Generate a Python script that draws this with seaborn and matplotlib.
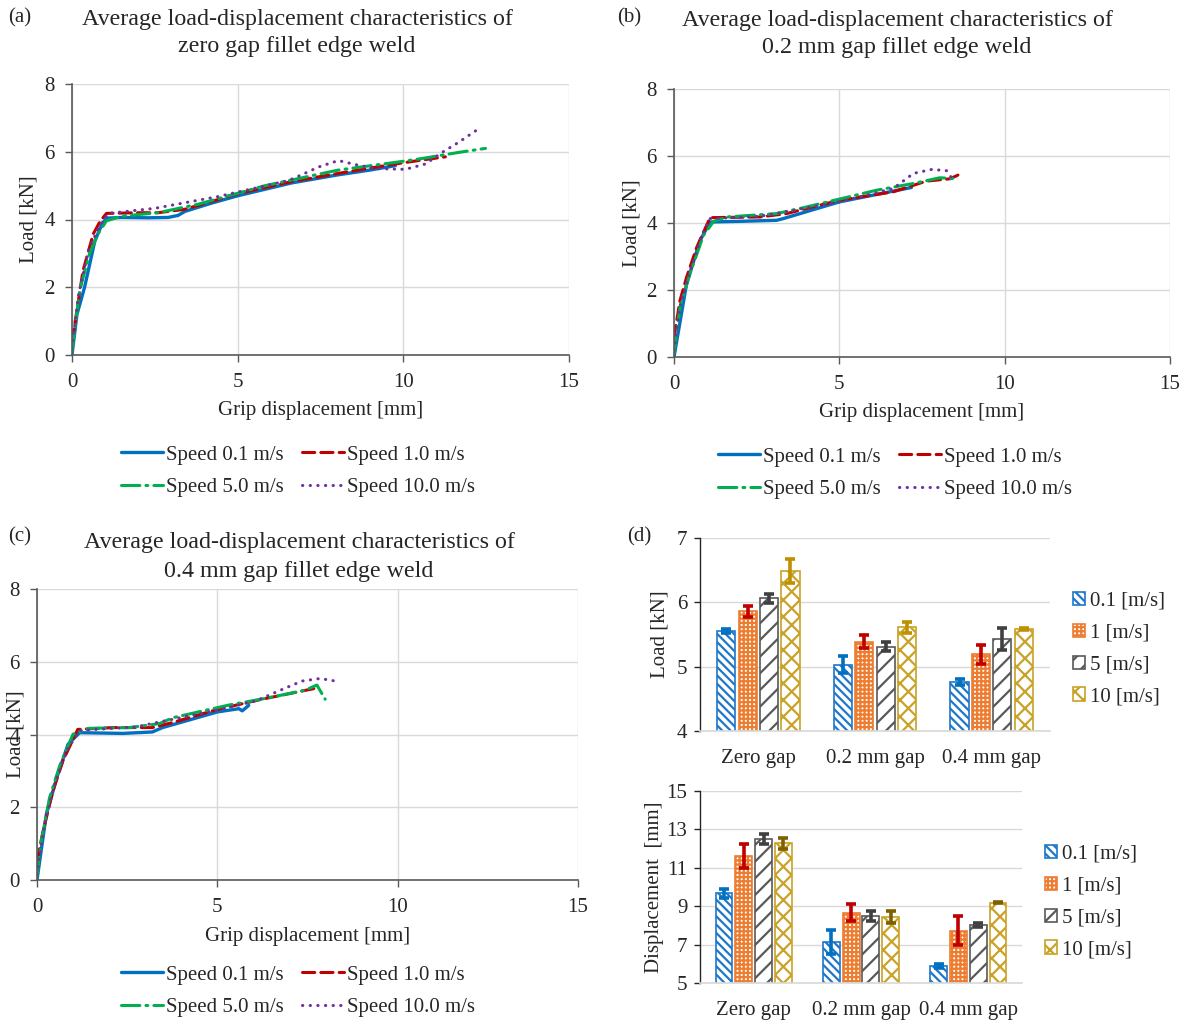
import numpy as np
import pandas as pd
import matplotlib
matplotlib.use("Agg")
import matplotlib.pyplot as plt
import seaborn as sns
from matplotlib.patches import Patch

sns.set_theme(style="white")
plt.rcParams['font.family'] = ['Liberation Serif', 'DejaVu Serif']
plt.rcParams['hatch.linewidth'] = 1.6

# ---------------- data: load-displacement curves ----------------
speeds = ["Speed 0.1 m/s", "Speed 1.0 m/s", "Speed 5.0 m/s", "Speed 10.0 m/s"]

# panel (a) zero gap
a_x01 = [0, 0.15, 0.38, 0.69, 0.9, 1.04, 1.5, 2.3, 2.9, 3.2, 3.41, 4.2, 5.0, 6.63, 8.04, 9.0, 9.76]
a_y01 = [0, 1.2, 2.0, 3.37, 3.85, 4.04, 4.06, 4.05, 4.06, 4.12, 4.24, 4.48, 4.7, 5.08, 5.32, 5.46, 5.59]
a_x10 = [0, 0.13, 0.33, 0.64, 0.85, 1.04, 2.0, 2.6, 3.4, 5.0, 6.63, 8.15, 9.76, 10.67, 11.27]
a_y10 = [0.41, 1.2, 2.48, 3.57, 3.95, 4.18, 4.2, 4.2, 4.3, 4.76, 5.12, 5.38, 5.64, 5.77, 5.85]
a_x50 = [0, 0.23, 0.53, 0.8, 1.04, 1.5, 2.6, 3.8, 5.83, 8.04, 9.86, 10.56, 11.67, 12.48]
a_y50 = [0.12, 1.9, 3.0, 3.6, 3.96, 4.1, 4.2, 4.45, 5.0, 5.46, 5.7, 5.8, 5.98, 6.1]
a_x100 = [0, 0.2, 0.5, 0.8, 1.09, 2.5, 4.42, 6.53, 7.0, 7.44, 8.04, 8.65, 9.25, 10.06, 10.67, 11.17, 11.67, 12.23]
a_y100 = [0.2, 1.8, 3.1, 3.75, 4.18, 4.33, 4.68, 5.15, 5.35, 5.55, 5.74, 5.6, 5.5, 5.48, 5.64, 5.98, 6.28, 6.65]

# panel (b) 0.2 mm gap
b_x01 = [0, 0.38, 0.79, 1.09, 2.0, 3.1, 3.3, 5.0, 7.18]
b_y01 = [0, 2.18, 3.48, 4.03, 4.05, 4.08, 4.13, 4.63, 5.06]
b_x10 = [0, 0.18, 0.38, 0.69, 1.09, 2.6, 3.4, 5.0, 6.63, 7.63, 8.35, 8.65]
b_y10 = [0.58, 1.68, 2.38, 3.28, 4.16, 4.18, 4.28, 4.68, 4.93, 5.25, 5.32, 5.46]
b_x50 = [0, 0.18, 0.48, 0.89, 1.2, 1.6, 3.1, 3.8, 6.13, 7.24, 8.04, 8.45]
b_y50 = [0.13, 1.48, 2.48, 3.63, 4.05, 4.18, 4.28, 4.43, 4.98, 5.18, 5.35, 5.33]
b_x100 = [0, 0.2, 0.5, 0.85, 1.09, 2.6, 5.0, 6.63, 7.24, 7.8, 8.25, 8.47]
b_y100 = [0.2, 1.6, 2.6, 3.65, 4.13, 4.2, 4.63, 5.03, 5.48, 5.6, 5.56, 5.23]

# panel (c) 0.4 mm gap
c_x01 = [0, 0.26, 0.58, 0.86, 1.18, 2.38, 3.2, 3.48, 5.0, 5.6, 5.69, 5.87]
c_y01 = [0, 1.81, 2.91, 3.73, 4.05, 4.03, 4.07, 4.19, 4.62, 4.71, 4.65, 4.8]
c_x10 = [0, 0.17, 0.44, 0.72, 1.13, 2.1, 3.2, 3.76, 5.0, 6.24, 7.72]
c_y10 = [0.53, 1.35, 2.45, 3.28, 4.14, 4.19, 4.19, 4.33, 4.69, 4.97, 5.27]
c_x50 = [0, 0.12, 0.35, 0.63, 1.0, 1.45, 2.56, 3.4, 3.76, 5.32, 6.43, 7.44, 7.76, 7.99]
c_y50 = [0.12, 1.08, 2.27, 3.14, 4.01, 4.17, 4.19, 4.3, 4.46, 4.81, 5.01, 5.22, 5.36, 4.97]
c_x100 = [0, 0.2, 0.5, 0.85, 1.18, 2.74, 5.0, 6.06, 6.8, 7.35, 7.85, 8.27]
c_y100 = [0.15, 1.5, 2.7, 3.6, 4.11, 4.21, 4.67, 4.92, 5.24, 5.47, 5.54, 5.47]

# ---------------- data: bar charts ----------------
gaps = ["Zero gap", "0.2 mm gap", "0.4 mm gap"]
bar_speeds = ["0.1 [m/s]", "1 [m/s]", "5 [m/s]", "10 [m/s]"]
load_01 = [5.55, 5.03, 4.76]
load_1 = [5.86, 5.39, 5.19]
load_5 = [6.06, 5.31, 5.43]
load_10 = [6.49, 5.61, 5.58]
load_err_01 = [0.03, 0.13, 0.05]
load_err_1 = [0.085, 0.10, 0.15]
load_err_5 = [0.065, 0.07, 0.17]
load_err_10 = [0.19, 0.085, 0.015]
disp_01 = [9.67, 7.14, 5.90]
disp_1 = [11.63, 8.66, 7.73]
disp_5 = [12.50, 8.49, 8.04]
disp_10 = [12.27, 8.44, 9.18]
disp_err_01 = [0.23, 0.63, 0.11]
disp_err_1 = [0.63, 0.43, 0.74]
disp_err_5 = [0.28, 0.24, 0.10]
disp_err_10 = [0.27, 0.30, 0.035]

# ---------------- styles ----------------
line_colors = ["#0070C0", "#C00000", "#00B050", "#7030A0"]
line_styles = ["-", (0, (4, 2)), (0, (6, 2, 0.6, 2)), (0, (0.1, 2.4))]
line_widths = [2.4, 2.2, 2.2, 2.2]

bar_edge = ["#1F77C9", "#ED7D31", "#595959", "#C9A227"]
bar_face = ["white", "white", "white", "white"]
bar_hatch = ["\\\\\\\\", "++++", "//", "xx"]
err_colors = ["#0070C0", "#C00000", "#404040", "#BF9000"]

FS = 15
W, H = 1190, 1025

fig = plt.figure(figsize=(11.9, 10.25), dpi=100)


def px_axes(left, top, right, bottom):
    return fig.add_axes([left / W, 1 - bottom / H, (right - left) / W, (bottom - top) / H])


def line_panel(ax, series):
    for (xs, ys), lab, c, ls, lw in zip(series, speeds, line_colors, line_styles, line_widths):
        df = pd.DataFrame({"x": xs, "y": ys})
        sns.lineplot(data=df, x="x", y="y", ax=ax, color=c, linestyle=ls, linewidth=lw,
                     sort=False, estimator=None, label=lab, legend=False,
                     dash_capstyle="round")
    ax.set_xlim(0, 15)
    ax.set_ylim(0, 8)
    ax.set_xticks([0, 5, 10, 15])
    ax.set_yticks([0, 2, 4, 6, 8])
    ax.grid(True, color="#D9D9D9", linewidth=1.0)
    for s in ["top", "right"]:
        ax.spines[s].set_visible(False)
    for s in ["left", "bottom"]:
        ax.spines[s].set_color("#595959")
        ax.spines[s].set_linewidth(1.2)
    ax.tick_params(axis="both", which="both", direction="out", length=5, width=1.0,
                   color="#595959", labelsize=FS, left=True, bottom=True)
    ax.tick_params(axis="x", pad=8)
    ax.tick_params(axis="y", pad=7.5)
    ax.set_xlabel("Grip displacement [mm]", fontsize=FS)
    ax.set_ylabel("Load [kN]", fontsize=FS)


def line_legend(ax, cx, cy):
    h, l = ax.get_legend_handles_labels()
    order = [0, 2, 1, 3]
    fig.legend([h[i] for i in order], [l[i] for i in order], ncol=2, loc="center",
               bbox_to_anchor=(cx / W, 1 - cy / H), frameon=False, fontsize=FS,
               handlelength=2.0, handletextpad=0.15, columnspacing=0.9, labelspacing=0.6)


# panel (a)
axa = px_axes(72, 84, 569, 355)
line_panel(axa, [(a_x01, a_y01), (a_x10, a_y10), (a_x50, a_y50), (a_x100, a_y100)])
axa.xaxis.set_label_coords(0.5, -0.171)
axa.yaxis.set_label_coords(-0.068, 0.5)
line_legend(axa, 298, 471)
fig.text(297 / W, 1 - 33 / H, "Average load-displacement characteristics of\nzero gap fillet edge weld",
         ha="center", va="center", fontsize=17.3, linespacing=1.4)
fig.text(8 / W, 1 - 18 / H, "(a)", ha="left", va="center", fontsize=FS)

# panel (b)
axb = px_axes(674, 89, 1170, 357)
line_panel(axb, [(b_x01, b_y01), (b_x10, b_y10), (b_x50, b_y50), (b_x100, b_y100)])
axb.xaxis.set_label_coords(0.5, -0.171)
axb.yaxis.set_label_coords(-0.065, 0.5)
line_legend(axb, 895, 473)
fig.text(897 / W, 1 - 34 / H, "Average load-displacement characteristics of\n0.2 mm gap fillet edge weld",
         ha="center", va="center", fontsize=17.3, linespacing=1.4)
fig.text(617 / W, 1 - 18 / H, "(b)", ha="left", va="center", fontsize=FS)

# panel (c)
axc = px_axes(37, 589, 578, 880)
line_panel(axc, [(c_x01, c_y01), (c_x10, c_y10), (c_x50, c_y50), (c_x100, c_y100)])
axc.xaxis.set_label_coords(0.5, -0.161)
axc.yaxis.set_label_coords(-0.022, 0.5)
line_legend(axc, 298, 991)
fig.text(299 / W, 1 - 557 / H, "Average load-displacement characteristics of\n0.4 mm gap fillet edge weld",
         ha="center", va="center", fontsize=17.3, linespacing=1.45)
fig.text(8 / W, 1 - 537 / H, "(c)", ha="left", va="center", fontsize=FS)

fig.text(627 / W, 1 - 537 / H, "(d)", ha="left", va="center", fontsize=FS)


def bar_panel(ax, vals, errs, ylim, yticks, ylabel, err_cols):
    rows = []
    for sp, v in zip(bar_speeds, vals):
        for g, val in zip(gaps, v):
            rows.append({"gap": g, "speed": sp, "value": val})
    df = pd.DataFrame(rows)
    sns.barplot(data=df, x="gap", y="value", hue="speed", order=gaps, hue_order=bar_speeds,
                errorbar=None, width=0.735, gap=0.15, ax=ax, legend=False,
                palette=bar_edge)
    handles = []
    bar_containers = list(ax.containers)
    for i, cont in enumerate(bar_containers):
        xs, ys = [], []
        for bar in cont.patches:
            bar.set_facecolor(bar_face[i])
            bar.set_edgecolor(bar_edge[i])
            bar.set_hatch(bar_hatch[i])
            bar.set_linewidth(1.2)
            xs.append(bar.get_x() + bar.get_width() / 2)
            ys.append(bar.get_height())
        ax.errorbar(xs, ys, yerr=errs[i], fmt="none", ecolor=err_cols[i], elinewidth=2.6,
                    capsize=3.5, capthick=2.6, zorder=5)
        handles.append(Patch(facecolor=bar_face[i], edgecolor=bar_edge[i], hatch=bar_hatch[i],
                             linewidth=1.2))
    ax.set_ylim(*ylim)
    ax.set_xlim(-0.5, 2.5)
    ax.set_yticks(yticks)
    ax.yaxis.grid(True, color="#D9D9D9", linewidth=1.0)
    ax.set_axisbelow(True)
    for s in ["top", "right"]:
        ax.spines[s].set_visible(False)
    ax.spines["bottom"].set_color("#D9D9D9")
    ax.spines["left"].set_color("#262626")
    ax.spines["left"].set_linewidth(1.0)
    ax.tick_params(axis="y", direction="out", length=4, width=1.0, color="#262626",
                   labelsize=FS, left=True, pad=5)
    ax.tick_params(axis="x", length=0, labelsize=FS, pad=13)
    ax.set_xlabel("")
    ax.set_ylabel(ylabel, fontsize=FS)
    return handles


axd1 = px_axes(700, 538, 1050, 731)
h1 = bar_panel(axd1, [load_01, load_1, load_5, load_10],
               [load_err_01, load_err_1, load_err_5, load_err_10],
               (4, 7), [4, 5, 6, 7], "Load [kN]", err_colors)
axd1.yaxis.set_label_coords(-0.086, 0.5)
fig.legend(h1, bar_speeds, loc="center left", bbox_to_anchor=(1054 / W, 1 - 649 / H),
           frameon=False, fontsize=FS, handlelength=0.6, handleheight=0.6,
           handletextpad=0.25, labelspacing=0.62)

axd2 = px_axes(700, 791, 1022, 983)
h2 = bar_panel(axd2, [disp_01, disp_1, disp_5, disp_10],
               [disp_err_01, disp_err_1, disp_err_5, disp_err_10],
               (5, 15), [5, 7, 9, 11, 13, 15], "Displacement  [mm]",
               ["#0070C0", "#C00000", "#404040", "#7F6000"])
axd2.yaxis.set_label_coords(-0.112, 0.5)
fig.legend(h2, bar_speeds, loc="center left", bbox_to_anchor=(1026 / W, 1 - 902 / H),
           frameon=False, fontsize=FS, handlelength=0.6, handleheight=0.6,
           handletextpad=0.25, labelspacing=0.62)

fig.savefig("out.png", dpi=100)
